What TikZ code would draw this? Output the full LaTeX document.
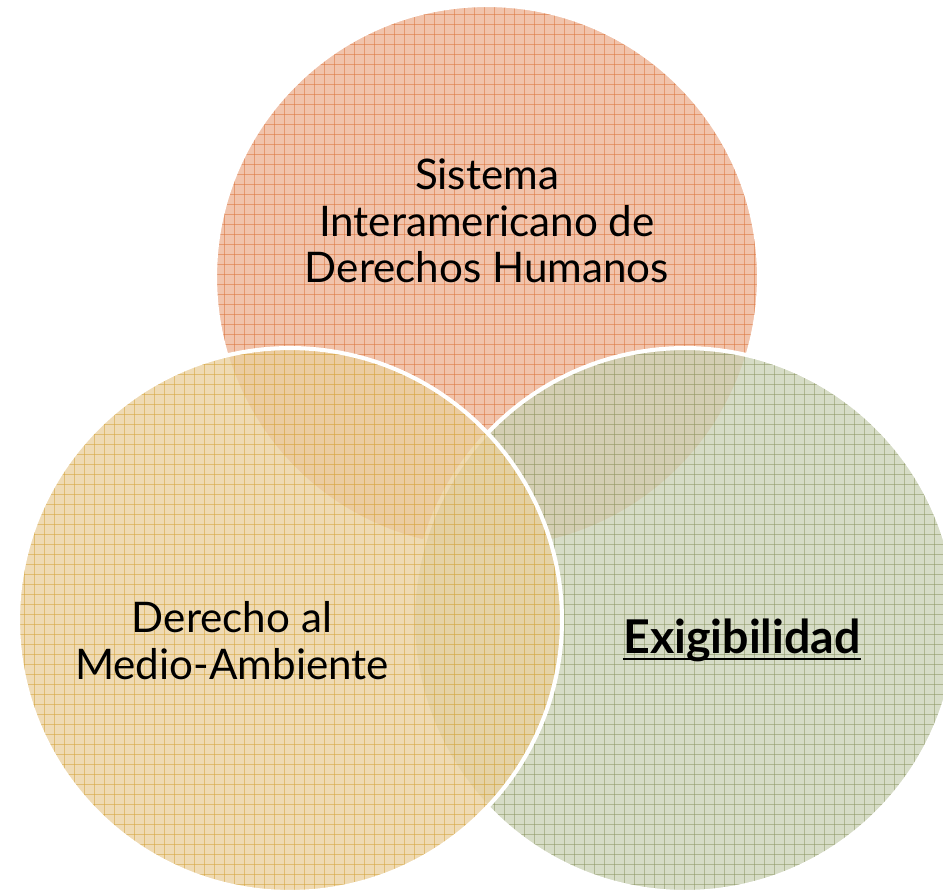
\documentclass[tikz,border=0pt]{standalone}
\usepackage{fontspec}
\setmainfont{Lato}
\usepackage{tikz}

\definecolor{naranja}{RGB}{237,178,148}
\definecolor{naranjaL}{RGB}{220,118,60}
\definecolor{amarillo}{RGB}{234,208,158}
\definecolor{amarilloL}{RGB}{214,165,60}
\definecolor{verde}{RGB}{203,210,182}
\definecolor{verdeL}{RGB}{142,152,100}

\tikzset{
  texto/.style={align=center,font=\fontsize{24}{26.6}\selectfont,text=black},
  borde/.style={draw=white,line width=2.3pt,draw opacity=1},
}

\newcommand\circulo[3]{%
  \begin{scope}[fill opacity=0.78,draw opacity=0.55]
    \fill[#2] (#1) circle (5.44cm);
    \begin{scope}
      \clip (#1) circle (5.44cm);
      \foreach \g in {4,14,...,944} \draw[#3,line width=0.35pt] (\g,0) -- (\g,891);
      \foreach \g in {4,14,...,894} \draw[#3,line width=0.35pt] (0,\g) -- (943,\g);
    \end{scope}
    \draw[borde] (#1) circle (5.44cm);
  \end{scope}}

\begin{document}
\begin{tikzpicture}[x=0.02cm,y=-0.02cm]
    \useasboundingbox (0,0) rectangle (943,891);
    \clip (0,0) rectangle (943,891);
    \coordinate (arriba) at (487,277);
    \coordinate (izq) at (290,620);
    \coordinate (der) at (685,620);
    \circulo{arriba}{naranja}{naranjaL}
    \circulo{der}{verde}{verdeL}
    \circulo{izq}{amarillo}{amarilloL}
    \node[texto] (sidh) at (487,221) {Sistema\\Interamericano de\\Derechos Humanos};
    \node[texto] (dma) at (232,641) {Derecho al\\Medio-Ambiente};
    \node[texto,font=\fontsize{26.5}{28}\selectfont\bfseries,inner sep=0pt] (exi) at (742,640) {Exigibilidad};
    \draw[line width=1.2pt] ([yshift=-3.5pt]exi.base west) -- ([yshift=-3.5pt]exi.base east);
\end{tikzpicture}
\end{document}
